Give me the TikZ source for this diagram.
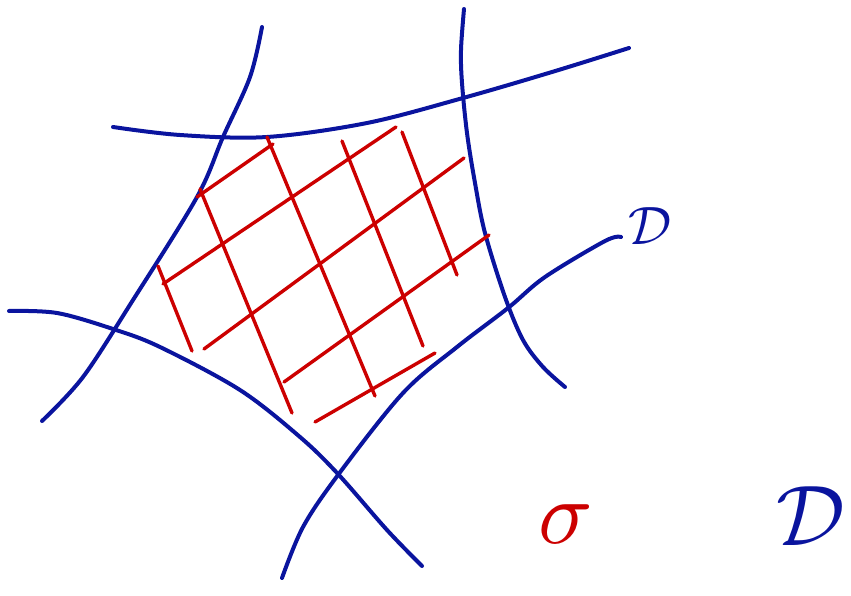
\documentclass[tikz,border=0pt]{standalone}
\usepackage{amsmath,amssymb}
\usepackage{graphicx}
\usepackage{tikz}
\usetikzlibrary{positioning}
\usepackage{xcolor}
\definecolor{inkblue}{HTML}{0A149E}
\definecolor{inkred}{HTML}{CC0000}

\begin{document}
\begin{tikzpicture}[x=1pt, y=-1pt,
    blueCurve/.style={draw=inkblue, line width=4pt, line cap=round, line join=round},
    redLine/.style={draw=inkred, line width=3.4pt, line cap=round},
    blueLabel/.style={text=inkblue, inner sep=0pt},
    redLabel/.style={text=inkred, inner sep=0pt}
]
    \useasboundingbox (0,0) rectangle (851,596);

    % blue curves
    \draw[blueCurve] plot[smooth, tension=0.55] coordinates {(113,127) (180,135) (267,137) (367,123) (463,98) (552,72) (629,48)};
    \draw[blueCurve] plot[smooth, tension=0.55] coordinates {(262,27) (250,77) (223,137) (197,197) (133,300) (83,377) (42,421)};
    \draw[blueCurve] plot[smooth, tension=0.55] coordinates {(464,9) (461,50) (462,83) (467,133) (475,183) (485,233) (505,297) (523,340) (543,367) (565,387)};
    \draw[blueCurve] plot[smooth, tension=0.55] coordinates {(9,311) (57,313) (113,329) (160,347) (240,390) (300,437) (338,474) (387,530) (422,566)};
    \draw[blueCurve] plot[smooth, tension=0.55] coordinates {(621,237) (605,241) (545,277) (508,308) (457,347) (403,393) (338,475) (303,527) (282,578)};

    % red grid
    \draw[redLine] (197,197) -- (273,144);
    \draw[redLine] (163,284) -- (396,127);
    \draw[redLine] (204,349) -- (464,158);
    \draw[redLine] (284,382) -- (489,235);
    \draw[redLine] (315,422) -- (435,353);

    \draw[redLine] (158,266) -- (192,351);
    \draw[redLine] (200,189) -- (292,413);
    \draw[redLine] (267,137) -- (375,396);
    \draw[redLine] (342,141) -- (423,346);
    \draw[redLine] (402,132) -- (457,275);

    % labels
    \node[blueLabel] (dTop) at (650,226) {\scalebox{5.4}{$\mathcal{D}$}};
    \node[redLabel] (sigma) at (566,524) {\scalebox{9}{$\sigma$}};
    \node[blueLabel] (dBottom) at (811,516) {\scalebox{8.6}{$\mathcal{D}$}};
\end{tikzpicture}
\end{document}
